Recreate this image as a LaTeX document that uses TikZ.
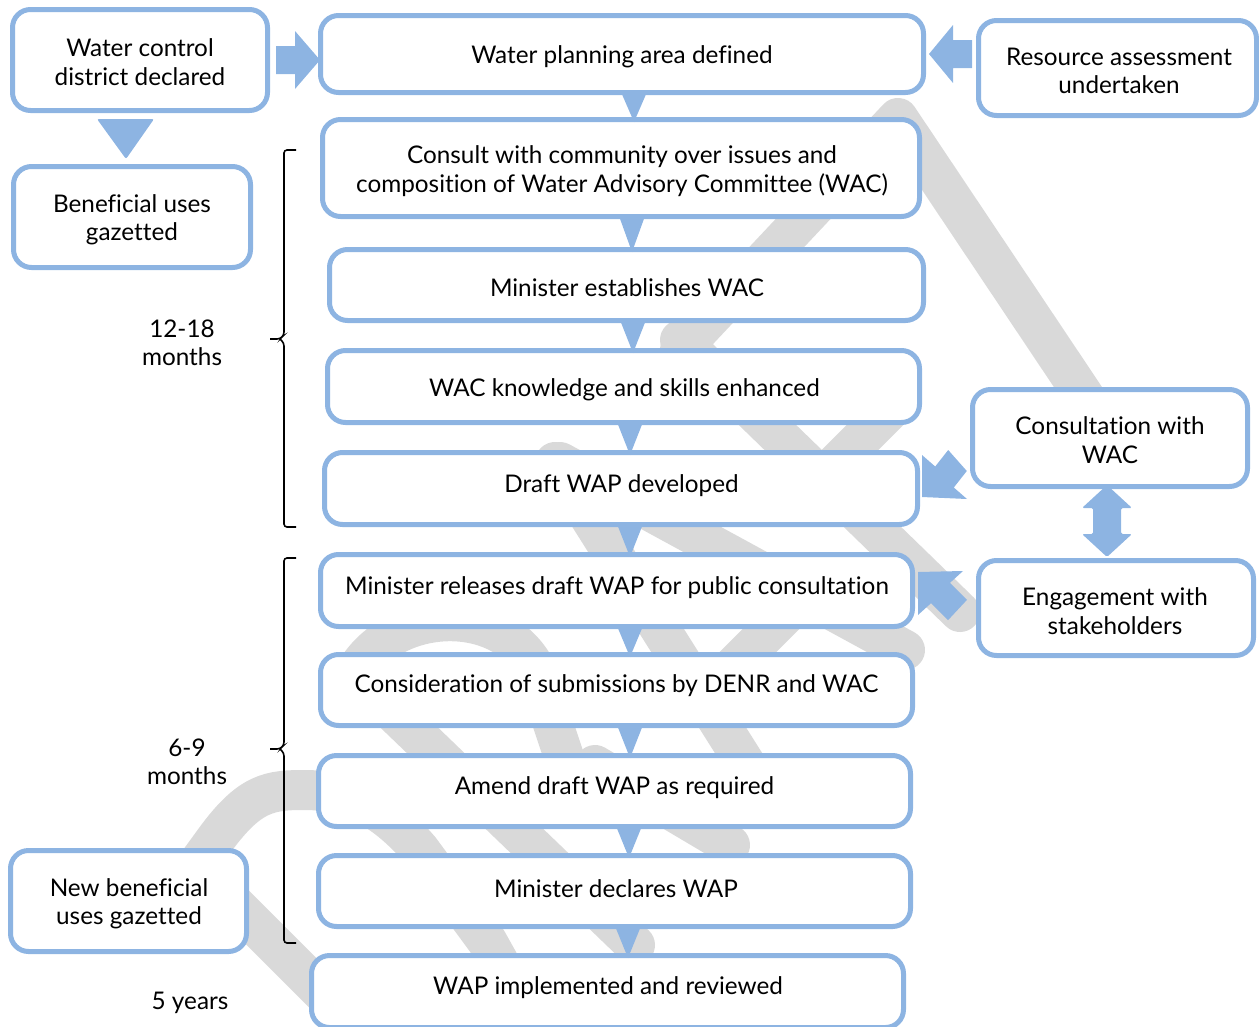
\documentclass[tikz,border=0pt]{standalone}
\usepackage{fontspec}
\setmainfont{Lato}[Ligatures=NoCommon]
\usetikzlibrary{calc}
\definecolor{bluec}{RGB}{141,180,226}
\definecolor{grayband}{RGB}{217,217,217}
\begin{document}
\begin{tikzpicture}[x=1pt,y=-1pt,
  box/.style={draw=bluec, line width=5pt, rounded corners=18pt, fill=white, inner sep=0pt},
  txt/.style={font=\fontsize{24.3}{28.5}\selectfont, align=center, inner sep=0pt},
  band/.style={draw=grayband, line width=40pt, line cap=round, line join=round},
  arrowc/.style={fill=bluec},
  brace/.style={draw=black, line width=1.6pt, rounded corners=3pt}]
\useasboundingbox (0,0) rectangle (1259,1026);

% ---- grey background band ----
\draw[band] (680,350) -- (898,118) -- (1100,420);
\draw[band] (680,340) -- (960,612);
\draw[band] (895,405) -- (815,485);
\draw[band] (560,462) -- (905,650);
\draw[band] (555,462) -- (765,795);
\draw[band] (595,765) -- (730,845);
\draw[band] (700,700) -- (820,580);
\draw[band] (345,700) .. controls (365,600) and (530,590) .. (545,700) -- (575,790);
\draw[band] (365,685) -- (635,945);
\draw[band] (175,895) -- (215,840) .. controls (250,792) and (270,790) .. (305,790)
  .. controls (355,790) and (390,815) .. (420,850) -- (487,941) -- (520,1000);
\draw[band] (210,880) -- (340,1010);

% ---- boxes ----
\node[box, minimum width=255pt, minimum height=101pt] (b1) at (140,60) {};
\node[box, minimum width=603pt, minimum height=77pt] (b2) at (622,54) {};
\node[box, minimum width=278pt, minimum height=95pt] (b3) at (1117.5,68) {};
\node[box, minimum width=237pt, minimum height=101pt] (b4) at (132,217) {};
\node[box, minimum width=597pt, minimum height=97pt] (b5) at (621,168) {};
\node[box, minimum width=594pt, minimum height=71pt] (b6) at (626.5,285) {};
\node[box, minimum width=592pt, minimum height=72pt] (b7) at (623.5,386.5) {};
\node[box, minimum width=593pt, minimum height=72pt] (b8) at (621,488.5) {};
\node[box, minimum width=592pt, minimum height=72pt] (b9) at (616.5,590.5) {};
\node[box, minimum width=592pt, minimum height=71pt] (b10) at (616.5,690) {};
\node[box, minimum width=592pt, minimum height=71pt] (b11) at (614.5,791) {};
\node[box, minimum width=592pt, minimum height=71pt] (b12) at (614.5,891) {};
\node[box, minimum width=592pt, minimum height=72pt] (b13) at (607.5,991.5) {};
\node[box, minimum width=275pt, minimum height=97pt] (b14) at (1110,438) {};
\node[box, minimum width=275pt, minimum height=95pt] (b15) at (1116,608) {};
\node[box, minimum width=236pt, minimum height=101pt] (b16) at (128.5,901) {};

% ---- texts ----
\node[txt] (t1) at (140,62) {Water control\\district declared};
\node[txt] (t2) at (622,57) {Water planning area defined};
\node[txt] (t3) at (1119,71) {Resource assessment\\undertaken};
\node[txt] (t4) at (132,220) {Beneficial uses\\gazetted};
\node[txt] (t5) at (622,171) {Consult with community over issues and\\composition of Water Advisory Committee (WAC)};
\node[txt] (t6) at (627,288) {Minister establishes WAC};
\node[txt] (t7) at (624.5,390) {WAC knowledge and skills enhanced};
\node[txt] (t8) at (621.5,486) {Draft WAP developed};
\node[txt] (t9) at (617,588) {Minister releases draft WAP for public consultation};
\node[txt] (t10) at (616.5,686) {Consideration of submissions by DENR and WAC};
\node[txt] (t11) at (614.5,788) {Amend draft WAP as required};
\node[txt] (t12) at (616,889) {Minister declares WAP};
\node[txt] (t13) at (608,988) {WAP implemented and reviewed};
\node[txt] (t14) at (1110,440) {Consultation with\\WAC};
\node[txt] (t15) at (1115,611) {Engagement with\\stakeholders};
\node[txt] (t16) at (129,904) {New beneficial\\uses gazetted};

\node[txt] (l1) at (182,343) {12-18\\months};
\node[txt] (l2) at (187,762) {6-9\\months};
\node[txt] (l3) at (190,1003) {5 years};

% ---- braces ----
\draw[brace] (296,150) -- (284,150) -- (284,335) -- (280,339) -- (270,339);
\draw[brace] (280,339) -- (284,343) -- (284,527) -- (296,527);
\draw[brace] (296,558) -- (284,558) -- (284,745) -- (280,749) -- (270,749);
\draw[brace] (280,749) -- (284,753) -- (284,943) -- (296,943);

% ---- small down triangles ----
\newcommand\dtri[3]{\fill[arrowc] ($(#2.south -| #1,0)+(-13,-3)$) -- ($(#2.south -| #1,0)+(13,-3)$) -- ($(#3.north -| #1,0)+(0,5)$) -- cycle;}
\dtri{634}{b2}{b5}
\dtri{632}{b5}{b6}
\dtri{633}{b6}{b7}
\dtri{630}{b7}{b8}
\dtri{630}{b8}{b9}
\dtri{630}{b9}{b10}
\dtri{630}{b10}{b11}
\dtri{629}{b11}{b12}
\dtri{628}{b12}{b13}

% ---- big triangle b1 -> b4 ----
\fill[arrowc, rounded corners=2pt] ($(b1.south -| 126,0)+(-29,6)$) -- ($(b1.south -| 126,0)+(28,6)$) -- ($(b4.north -| 126,0)+(0,-5)$) -- cycle;

% ---- block arrow b1 -> b2 ----
\fill[arrowc] ($(b1.east)+(6,-14)$) -- ($(b1.east)+(25,-14)$) -- ($(b1.east)+(25,-29)$) -- ($(b2.west |- b1.east)+(2,0)$) -- ($(b1.east)+(25,29)$) -- ($(b1.east)+(25,14)$) -- ($(b1.east)+(6,14)$) -- cycle;

% ---- block arrow b3 -> b2 ----
\fill[arrowc] ($(b3.west |- b2.east)+(-4,-14)$) -- ($(b3.west |- b2.east)+(-23,-14)$) -- ($(b3.west |- b2.east)+(-23,-29)$) -- ($(b2.east)+(3,0)$) -- ($(b3.west |- b2.east)+(-23,29)$) -- ($(b3.west |- b2.east)+(-23,14)$) -- ($(b3.west |- b2.east)+(-4,14)$) -- cycle;

% ---- diagonal arrow b14 -> b8 ----
\begin{scope}[shift={(b8.east)}]
\fill[arrowc] (2,8.5) -- (47,10.5) -- (33.8,-1) -- (46.8,-17.5) -- (28.2,-38.5) -- (15.2,-22) -- (2,-33.5) -- cycle;
\end{scope}

% ---- diagonal arrow b15 -> b9 ----
\begin{scope}[shift={(b9.east)}]
\fill[arrowc] (3,-18.5) -- (48,-19.5) -- (35,-7.7) -- (52,9.3) -- (33,29.7) -- (16,12.7) -- (3,24.5) -- cycle;
\end{scope}

% ---- double arrow b14 <-> b15 ----
\begin{scope}[shift={(b14.south -| 1107,0)}]
\fill[arrowc, rounded corners=1.5pt] (0,-4) -- (25,19) -- (14,19) -- (14,45) -- (25,45) -- (0,68) -- (-25,45) -- (-14,45) -- (-14,19) -- (-25,19) -- cycle;
\end{scope}
\end{tikzpicture}
\end{document}
